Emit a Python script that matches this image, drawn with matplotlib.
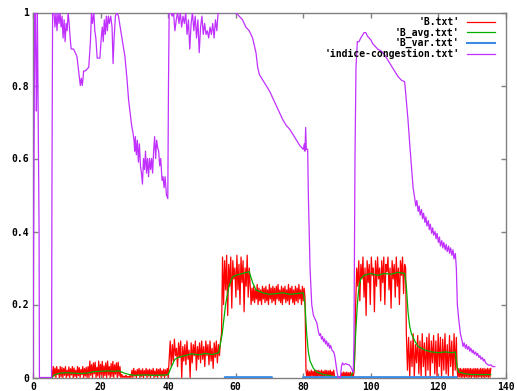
import numpy as np
import matplotlib
matplotlib.use("Agg")
import matplotlib.pyplot as plt

# B.txt : noisy signal, read piecewise off the picture (start, end, values)
b_segments = [
    (5.5, 16.0, [0.02, 0, 0.03, 0.004, 0.026, 0, 0.03, 0.008, 0.022, 0, 0.03, 0.002,
                 0.028, 0, 0.025, 0.006, 0.03, 0, 0.02, 0.004, 0.029, 0, 0.024, 0.007,
                 0.03, 0, 0.026, 0.003, 0.02, 0, 0.03, 0.005, 0.027, 0, 0.022, 0.008,
                 0.03, 0, 0.025, 0.004, 0.028, 0]),
    (16.3, 26.0, [0.03, 0, 0.045, 0.006, 0.035, 0, 0.04, 0.01, 0.042, 0, 0.028, 0.004,
                  0.045, 0, 0.036, 0.008, 0.044, 0, 0.032, 0.005, 0.04, 0, 0.045, 0.007,
                  0.03, 0, 0.038, 0.003, 0.044, 0, 0.035, 0.009, 0.04, 0, 0.042, 0.004,
                  0.03, 0]),
    (26.3, 29.0, [0.008, 0, 0.004, 0, 0.006, 0, 0.003, 0, 0.005, 0]),
    (29.3, 40.0, [0.02, 0, 0.025, 0.004, 0.018, 0, 0.022, 0.006, 0.025, 0, 0.02, 0.003,
                  0.024, 0, 0.019, 0.005, 0.025, 0, 0.021, 0.004, 0.023, 0, 0.02, 0.006,
                  0.025, 0, 0.018, 0.003, 0.024, 0, 0.022, 0.005, 0.025, 0, 0.019, 0.004,
                  0.023, 0, 0.021, 0.006, 0.025, 0]),
    (40.3, 55.5, [0.05, 0.1, 0.03, 0.09, 0.045, 0.105, 0.06, 0.08, 0.03, 0.095, 0.055,
                  0.1, 0, 0.085, 0.045, 0.09, 0.035, 0.1, 0.05, 0.075, 0.0, 0.095, 0.04,
                  0.09, 0.06, 0.1, 0.02, 0.085, 0.05, 0.095, 0.04, 0.1, 0.05, 0.085, 0.03,
                  0.1, 0.06, 0.09, 0.035, 0.1, 0.045, 0.08, 0.025, 0.095, 0.055, 0.1,
                  0.04, 0.09, 0.06, 0.1]),
    (55.8, 64.0, [0.12, 0.33, 0.2, 0.32, 0.24, 0.335, 0.17, 0.31, 0.25, 0.33, 0.19, 0.32,
                  0.27, 0.3, 0.22, 0.335, 0.24, 0.31, 0.2, 0.33, 0.26, 0.32, 0.18, 0.3,
                  0.25, 0.335, 0.22, 0.3]),
    (64.3, 80.5, [0.25, 0.2, 0.245, 0.21, 0.25, 0.205, 0.24, 0.215, 0.255, 0.2, 0.245,
                  0.21, 0.24, 0.2, 0.25, 0.215, 0.245, 0.205, 0.25, 0.21, 0.24, 0.2, 0.255,
                  0.215, 0.245, 0.205, 0.25, 0.21, 0.245, 0.2, 0.25, 0.215, 0.255, 0.21,
                  0.24, 0.205, 0.25, 0.2, 0.245, 0.215, 0.25, 0.205, 0.24, 0.21, 0.255,
                  0.2, 0.245, 0.215, 0.25, 0.205, 0.24, 0.2, 0.25, 0.21, 0.245, 0.205,
                  0.255, 0.215, 0.24, 0.2, 0.25, 0.21, 0.245, 0.22]),
    (80.8, 89.0, [0.018, 0, 0.02, 0.003, 0.016, 0, 0.02, 0.005, 0.017, 0, 0.02, 0.002,
                  0.019, 0, 0.02, 0.004, 0.018, 0, 0.02, 0.003, 0.017, 0, 0.02, 0.005,
                  0.019, 0, 0.018, 0.002, 0.02, 0, 0.016, 0.004, 0.02]),
    (89.3, 91.0, [0, 0, 0, 0, 0, 0]),
    (91.3, 95.0, [0.012, 0, 0.015, 0.003, 0.014, 0, 0.015, 0.002, 0.013, 0, 0.015,
                  0.004, 0.012, 0, 0.014]),
    (95.2, 110.3, [0.05, 0.2, 0.3, 0.25, 0.32, 0.21, 0.31, 0.27, 0.33, 0.22, 0.3, 0.17,
                   0.32, 0.26, 0.31, 0.2, 0.33, 0.28, 0.3, 0.18, 0.32, 0.25, 0.33, 0.27,
                   0.3, 0.21, 0.32, 0.26, 0.33, 0.2, 0.31, 0.29, 0.33, 0.24, 0.3, 0.19,
                   0.32, 0.27, 0.31, 0.22, 0.33, 0.25, 0.3, 0.2, 0.32, 0.28, 0.33, 0.23,
                   0.31, 0.3]),
    (110.5, 125.3, [0.12, 0.02, 0.11, 0, 0.1, 0.03, 0.12, 0, 0.09, 0.04, 0.115, 0.01,
                    0.1, 0, 0.12, 0.03, 0.095, 0, 0.11, 0.02, 0.12, 0, 0.1, 0.04, 0.115,
                    0.01, 0.1, 0, 0.12, 0.03, 0.11, 0.0, 0.105, 0.02, 0.12, 0.01, 0.09,
                    0.0, 0.115, 0.03, 0.1, 0.0, 0.12, 0.02, 0.11]),
    (125.5, 135.5, [0.025, 0, 0.024, 0.002, 0.025, 0, 0.023, 0.001, 0.025, 0, 0.024,
                    0.002, 0.025, 0, 0.024, 0.001, 0.025, 0, 0.023, 0.002, 0.025, 0,
                    0.024, 0.001, 0.025, 0, 0.023, 0.002, 0.025, 0, 0.024, 0.001, 0.025,
                    0, 0.023, 0.002, 0.025, 0, 0.024, 0.001, 0.025]),
]

# B_avg.txt
avg_x = [5.5, 6.5, 8, 10, 12, 14, 16, 18, 20, 22, 24, 25.5, 27, 28.5, 30, 33, 36, 39, 40,
         41, 42, 43, 45, 47, 49, 51, 53, 55, 56, 57, 58, 59, 60, 62, 64, 65, 66, 68, 70,
         72, 74, 76, 78, 80, 80.5, 81, 81.5, 82, 83, 84, 86, 88, 89, 91, 94, 95, 95.5,
         96, 96.5, 97, 98, 100, 102, 104, 106, 108, 110, 110.5, 111, 111.5, 112, 113,
         114, 116, 118, 120, 122, 124, 125, 125.5, 126, 128, 130, 133, 135.5]
avg_y = [0.0, 0.008, 0.012, 0.013, 0.012, 0.011, 0.012, 0.016, 0.017, 0.018, 0.017,
         0.018, 0.012, 0.008, 0.006, 0.007, 0.006, 0.007, 0.008, 0.03, 0.05, 0.055,
         0.06, 0.065, 0.062, 0.066, 0.063, 0.068, 0.12, 0.2, 0.25, 0.275, 0.28, 0.285,
         0.29, 0.26, 0.24, 0.232, 0.228, 0.23, 0.232, 0.228, 0.23, 0.232, 0.2, 0.12,
         0.07, 0.045, 0.025, 0.015, 0.008, 0.005, 0.002, 0.001, 0.002, 0.02, 0.12, 0.2,
         0.25, 0.27, 0.28, 0.285, 0.28, 0.285, 0.283, 0.288, 0.285, 0.25, 0.18, 0.14,
         0.12, 0.1, 0.085, 0.075, 0.07, 0.068, 0.07, 0.068, 0.07, 0.03, 0.015, 0.01,
         0.008, 0.008, 0.008]

# B_var.txt (only visible where it sits on the x axis)
var_x = [0, 56.7, 56.8, 70.7, 70.8, 79.9, 80.0, 125.4, 125.5, 137]
var_y = [-0.01, -0.01, 0.001, 0.001, -0.01, -0.01, 0.001, 0.001, -0.01, -0.01]

# indice-congestion.txt
ic_x = [0, 0.5, 0.7, 0.9, 1.0, 1.1, 1.3, 1.8, 1.9, 5.5, 5.6, 5.8,
        6.2, 6.5, 6.8, 7.1, 7.4, 7.7, 8, 8.3, 8.6, 8.9, 9.2, 9.5, 9.8, 10.1, 10.4, 10.7,
        11, 11.3, 12.0, 12.5, 13, 13.5, 14, 14.3, 14.6, 15, 15.5, 16.5, 17, 17.3, 17.6,
        18, 18.3, 18.6, 19, 19.8, 20.2, 20.5, 20.8, 21.1, 21.4, 21.7, 22, 22.3, 22.6,
        23, 23.4, 23.7, 24, 24.4, 24.8, 25.3, 25.8, 26.5, 27.2, 27.8, 28.3, 28.8, 29.2,
        29.6, 29.9, 30.1, 30.3, 30.6, 30.9, 31.2, 31.5, 31.8, 32.1, 32.4, 32.7, 33,
        33.3, 33.6, 33.9, 34.2, 34.5, 34.8, 35.1, 35.4, 35.7, 36, 36.3, 36.6, 36.9,
        37.2, 37.5, 37.8, 38.2, 38.5, 38.8, 39.1, 39.5, 39.9, 40.1, 40.3,
        40.8, 41.2, 41.6, 42, 42.4, 42.8, 43.2, 43.6, 44, 44.4, 44.8, 45.2, 45.6, 46,
        46.4, 46.8, 47.2, 47.6, 48, 48.4, 48.8, 49.2, 49.6, 50, 50.4, 50.8, 51.2, 51.6,
        52, 52.4, 52.8, 53.2, 53.6, 54, 54.4, 54.8, 55.5, 57, 58.5, 60, 61, 62, 63, 64,
        65, 65.5, 66, 66.5, 67, 68, 69, 70, 71, 72, 73, 74, 75, 76, 77, 78, 79, 79.5,
        80, 80.3, 80.5, 80.7, 80.9, 81.3, 81.5, 82, 82.5, 83, 84, 84.5, 84.8, 85.1,
        85.4, 85.7, 86, 86.3, 86.6, 86.9, 87.2, 87.5, 87.8, 88.1, 88.5, 89, 89.3,
        89.6, 90, 90.3, 91, 91.3, 91.6, 92, 92.5, 93, 93.5, 94, 94.5, 94.8, 95, 95.3,
        95.6, 96, 96.5, 97, 98, 98.5, 99, 99.5, 100, 100.5, 101, 101.5, 102, 103, 104,
        105, 106, 107, 108, 109, 110, 110.3, 111, 111.5, 112, 112.5, 113, 113.3, 113.6,
        114, 114.3, 114.6, 115, 115.3, 115.6, 116, 116.3, 116.6, 117, 117.3, 117.6,
        118, 118.3, 118.6, 119, 119.3, 119.6, 120, 120.3, 120.6, 121, 121.3, 121.6,
        122, 122.3, 122.6, 123, 123.3, 123.6, 124, 124.3, 124.6, 125, 125.3, 125.6,
        126, 126.5, 127, 127.3, 127.6, 128, 128.3, 128.6, 129, 129.3, 129.6, 130,
        130.3, 130.6, 131, 131.3, 131.6, 132, 132.3, 132.6, 133, 133.3, 133.6, 134,
        134.5, 135, 135.5, 136, 136.7]
ic_y = [0.0, 1.0, 1.0, 0.8, 0.73, 0.8, 1.0, 0.4, 0.0, 0.0, 0.5, 1.0,
        1.0, 0.96, 1.0, 0.95, 1.0, 0.97, 1.0, 0.96, 0.99, 0.93, 0.98, 0.92, 0.97, 0.95,
        1.0, 0.97, 0.93, 0.9, 0.9, 0.89, 0.88, 0.84, 0.8, 0.82, 0.8, 0.84, 0.84, 0.85,
        0.92, 1.0, 0.97, 1.0, 0.95, 0.93, 0.875, 0.875, 0.93, 0.96, 0.92, 0.98, 0.94,
        0.99, 0.95, 0.99, 0.97, 0.99, 0.96, 0.86, 0.93, 0.99, 1.0, 0.99, 0.96, 0.92,
        0.88, 0.82, 0.76, 0.72, 0.69, 0.67, 0.65, 0.62, 0.66, 0.61, 0.65, 0.59, 0.64,
        0.58, 0.56, 0.53, 0.6, 0.57, 0.62, 0.56, 0.6, 0.55, 0.6, 0.57, 0.6, 0.56, 0.62,
        0.66, 0.6, 0.65, 0.63, 0.62, 0.58, 0.6, 0.54, 0.55, 0.52, 0.55, 0.5, 0.49, 0.8,
        1.0,
        1.0, 0.99, 1.0, 0.95, 0.98, 1.0, 0.97, 1.0, 0.96, 0.99, 0.97, 1.0, 0.94, 0.98,
        0.9, 0.97, 1.0, 0.95, 0.99, 0.93, 0.98, 0.89, 0.96, 0.99, 0.94, 0.97, 0.94,
        0.95, 0.93, 0.96, 0.94, 0.97, 0.93, 0.98, 0.95, 1.0, 1.0, 1.0, 1.0, 1.0, 0.99,
        0.98, 0.96, 0.95, 0.93, 0.91, 0.89, 0.85, 0.83, 0.815, 0.8, 0.785, 0.765, 0.745,
        0.725, 0.705, 0.69, 0.68, 0.665, 0.65, 0.635, 0.63, 0.625, 0.64, 0.62, 0.685,
        0.625, 0.625, 0.5, 0.3, 0.2, 0.17, 0.15, 0.125, 0.115, 0.12, 0.105, 0.112,
        0.098, 0.106, 0.092, 0.1, 0.086, 0.094, 0.08, 0.088, 0.075, 0.07, 0.06, 0.04,
        0.015, 0.0, 0.0, 0.03, 0.04, 0.035, 0.038, 0.036, 0.035, 0.03, 0.02, 0.015,
        0.1, 0.6, 0.85, 0.92, 0.92, 0.93, 0.945, 0.945, 0.935, 0.93, 0.925, 0.915,
        0.91, 0.905, 0.9, 0.895, 0.885, 0.87, 0.855, 0.84, 0.825, 0.815, 0.81, 0.78,
        0.705, 0.64, 0.58, 0.52, 0.49, 0.47, 0.485, 0.455, 0.47, 0.445, 0.46, 0.435,
        0.45, 0.425, 0.44, 0.415, 0.43, 0.405, 0.42, 0.395, 0.41, 0.39, 0.4, 0.38,
        0.395, 0.37, 0.385, 0.36, 0.375, 0.355, 0.37, 0.35, 0.365, 0.345, 0.36, 0.34,
        0.355, 0.335, 0.35, 0.325, 0.34, 0.3, 0.2, 0.16, 0.12, 0.1, 0.085, 0.095, 0.08,
        0.09, 0.077, 0.085, 0.072, 0.08, 0.068, 0.075, 0.064, 0.07, 0.06, 0.066, 0.055,
        0.06, 0.05, 0.055, 0.045, 0.05, 0.04, 0.036, 0.033, 0.035, 0.03, 0.03]

x_ticks = [0, 20, 40, 60, 80, 100, 120, 140]
y_ticks = [0, 0.2, 0.4, 0.6, 0.8, 1]
y_labels = ["0", "0.2", "0.4", "0.6", "0.8", "1"]

b_x = np.concatenate([np.linspace(s, e, len(v)) for s, e, v in b_segments])
b_y = np.concatenate([v for s, e, v in b_segments])

plt.rcParams["font.family"] = ["DejaVu Sans Mono"]
plt.rcParams["font.weight"] = "bold"

fig = plt.figure(figsize=(5.17, 3.91), dpi=100)
ax = fig.add_axes([33 / 517, 13.5 / 391, 473 / 517, 365 / 391])

ax.plot(b_x, b_y, color="#ff0000", lw=0.9, label="'B.txt'", zorder=3)
ax.plot(avg_x, avg_y, color="#00b000", lw=0.9, label="'B_avg.txt'", zorder=3.1)
ax.plot(var_x, var_y, color="#3c8ce6", lw=1.5, label="'B_var.txt'", zorder=3.2)
ax.plot(ic_x, ic_y, color="#c030ff", lw=0.9, label="'indice-congestion.txt'", zorder=3.3)

ax.set_xlim(0, 140)
ax.set_ylim(0, 1)
ax.set_xticks(x_ticks)
ax.set_yticks(y_ticks)
ax.set_yticklabels(y_labels)
ax.tick_params(direction="in", length=3.5, width=1, color="#808080",
               top=True, right=True, labelsize=7, pad=3)
for sp in ax.spines.values():
    sp.set_color("#808080")
    sp.set_linewidth(1)

ax.legend(loc="upper right", bbox_to_anchor=(495 / 517, 374 / 391),
          bbox_transform=fig.transFigure, frameon=False, markerfirst=False,
          fontsize=7, handlelength=2.9, handletextpad=0.75, labelspacing=0.05,
          borderpad=0, borderaxespad=0)

fig.savefig("out.png", dpi=100)
